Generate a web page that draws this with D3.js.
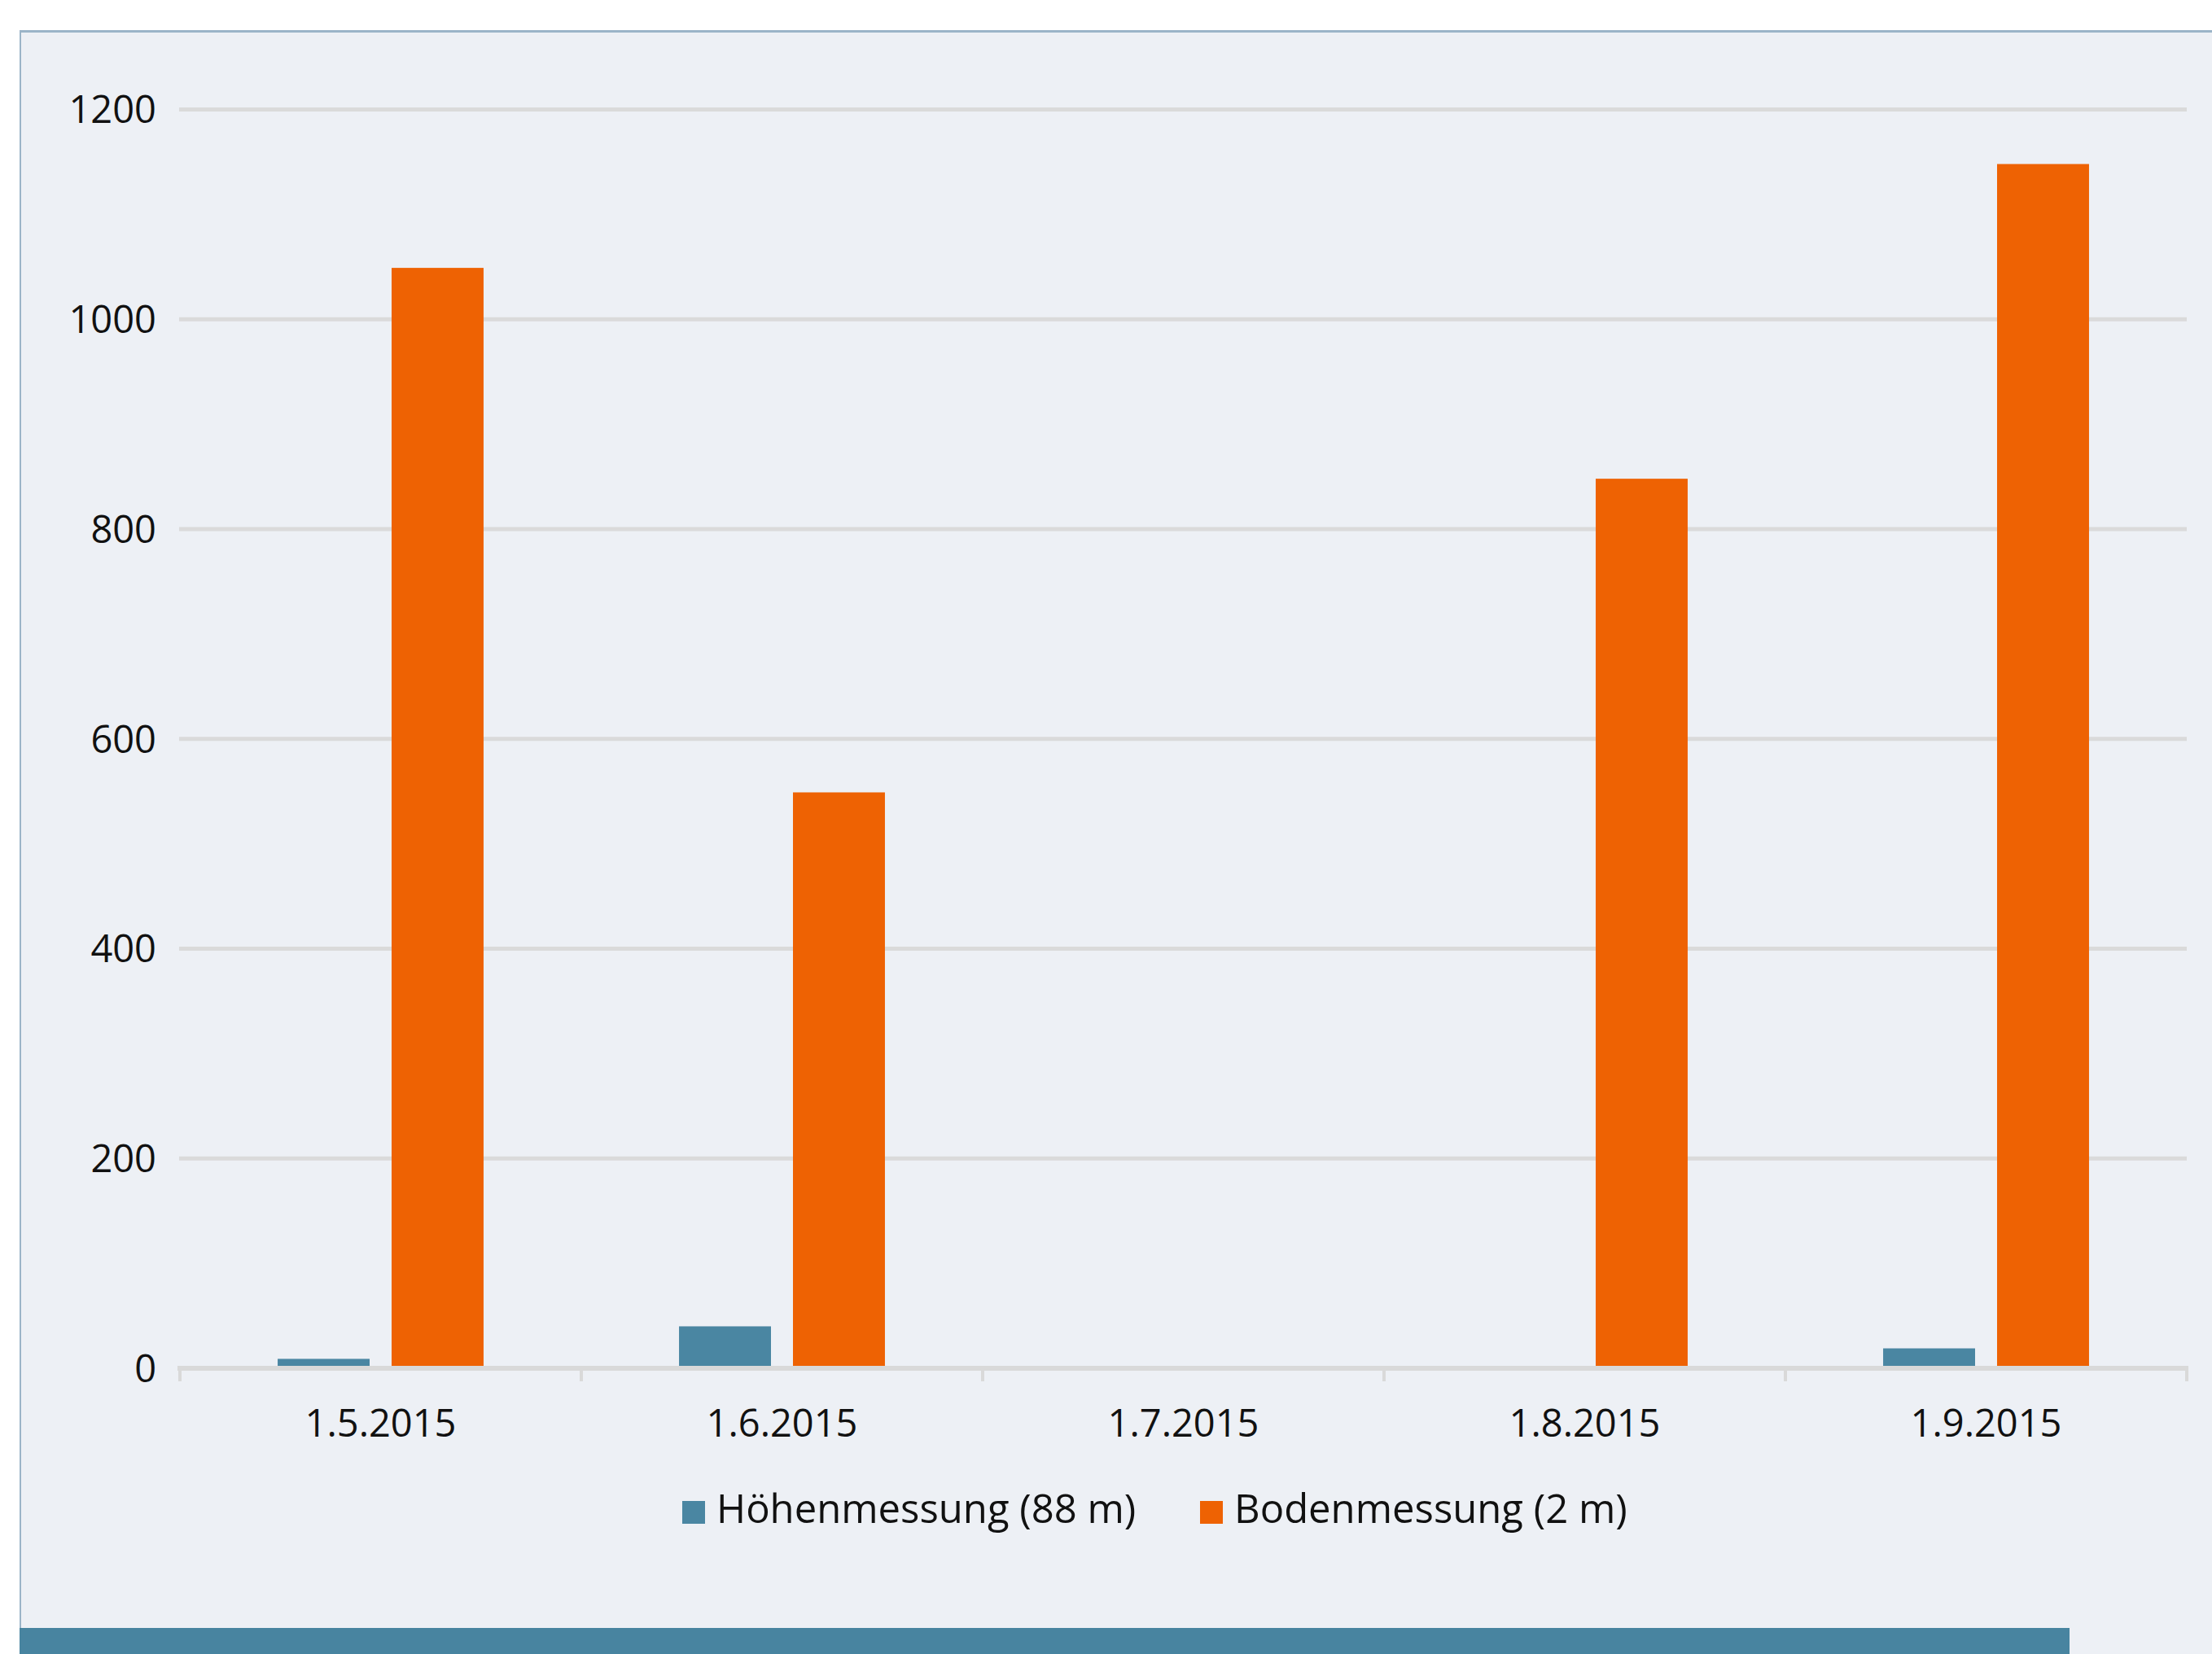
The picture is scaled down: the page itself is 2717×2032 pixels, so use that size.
<!DOCTYPE html>
<html>
<head>
<meta charset="utf-8">
<script src="https://cdn.jsdelivr.net/npm/d3@7"></script>
<style>
html,body{margin:0;padding:0;background:#fff;}
svg{display:block;}
text{font-family:"Open Sans","Noto Sans",sans-serif;fill:#111;}
</style>
</head>
<body>
<svg id="chart" width="2717" height="2032"></svg>
<script>
const categories = ["1.5.2015","1.6.2015","1.7.2015","1.8.2015","1.9.2015"];
const seriesNames = ["Höhenmessung (88 m)","Bodenmessung (2 m)"];
const hoehen = [9, 40, 0, 0, 19];
const boden = [1049, 549, 0, 848, 1148];
const yTicks = [0,200,400,600,800,1000,1200];
const colors = ["#4a86a2","#ee6203"];

(function(){
const W = 2717, H = 2032;
const svg = d3.select("#chart");

// panel
svg.append("rect").attr("x",24).attr("y",37).attr("width",W-24).attr("height",H-37).attr("fill","#edf0f5");
svg.append("rect").attr("x",24).attr("y",37).attr("width",W-24).attr("height",3).attr("fill","#9bb4c8");
svg.append("rect").attr("x",24).attr("y",37).attr("width",2).attr("height",2000-37).attr("fill","#9bb4c8");
svg.append("rect").attr("x",24).attr("y",2000).attr("width",2542-24).attr("height",32).attr("fill","#4884a0");

const pLeft = 221, pRight = 2686, pTop = 134.5, pBottom = 1681;
const x0 = d3.scaleBand().domain(categories).range([pLeft,pRight]).padding(0);
const groupW = x0.bandwidth()*0.513;
const x1 = d3.scaleBand().domain([0,1]).range([(x0.bandwidth()-groupW)/2,(x0.bandwidth()+groupW)/2]).paddingInner(0.193).paddingOuter(0);
const y = d3.scaleLinear().domain([0,1200]).range([pBottom,pTop]);

// gridlines
svg.append("g").selectAll("line").data(yTicks.filter(d=>d>0)).join("line")
  .attr("x1",pLeft-1).attr("x2",pRight).attr("y1",d=>y(d)).attr("y2",d=>y(d))
  .attr("stroke","#dadada").attr("stroke-width",5);

// y labels
const yAxis = d3.axisLeft(y).tickValues(yTicks).tickFormat(d3.format("d")).tickSize(0).tickPadding(0);
const gy = svg.append("g").attr("transform",`translate(192,0)`).call(yAxis);
gy.select(".domain").remove();
gy.selectAll("text").style("font-size","47px").style("font-family","'Open Sans','Noto Sans',sans-serif").attr("fill","#111").attr("dy","0.35em");

// bars
const data = categories.map((c,i)=>({cat:c, vals:[hoehen[i], boden[i]]}));
const g = svg.append("g").selectAll("g").data(data).join("g")
  .attr("transform",d=>`translate(${x0(d.cat)},0)`);
g.selectAll("rect").data(d=>d.vals.map((v,k)=>({k,v}))).join("rect")
  .attr("x",d=>x1(d.k)).attr("width",x1.bandwidth())
  .attr("y",d=>y(d.v)).attr("height",d=>pBottom-y(d.v))
  .attr("fill",d=>colors[d.k]);

// baseline and ticks
svg.append("line").attr("x1",pLeft-3).attr("x2",pRight+2).attr("y1",pBottom).attr("y2",pBottom)
  .attr("stroke","#d9d9d9").attr("stroke-width",6);
const bounds = categories.map(c=>x0(c)).concat([pRight]);
svg.append("g").selectAll("line").data(bounds).join("line")
  .attr("x1",d=>d).attr("x2",d=>d).attr("y1",pBottom).attr("y2",pBottom+16)
  .attr("stroke","#d9d9d9").attr("stroke-width",4);

// x labels
const xAxis = d3.axisBottom(x0).tickSize(0).tickPadding(0);
const gx = svg.append("g").attr("transform",`translate(0,1765)`).call(xAxis);
gx.select(".domain").remove();
gx.selectAll("text").style("font-size","47px").style("font-family","'Open Sans','Noto Sans',sans-serif").attr("fill","#111").attr("dy","0");

// legend
const legendX = [838, 1474];
const lg = svg.append("g").selectAll("g").data(seriesNames).join("g")
  .attr("transform",(d,i)=>`translate(${legendX[i]},0)`);
lg.append("rect").attr("x",0).attr("y",1844).attr("width",28).attr("height",28).attr("fill",(d,i)=>colors[i]);
lg.append("text").attr("x",42).attr("y",1871).style("font-size","49px").text(d=>d);
})();
</script>
</body>
</html>
